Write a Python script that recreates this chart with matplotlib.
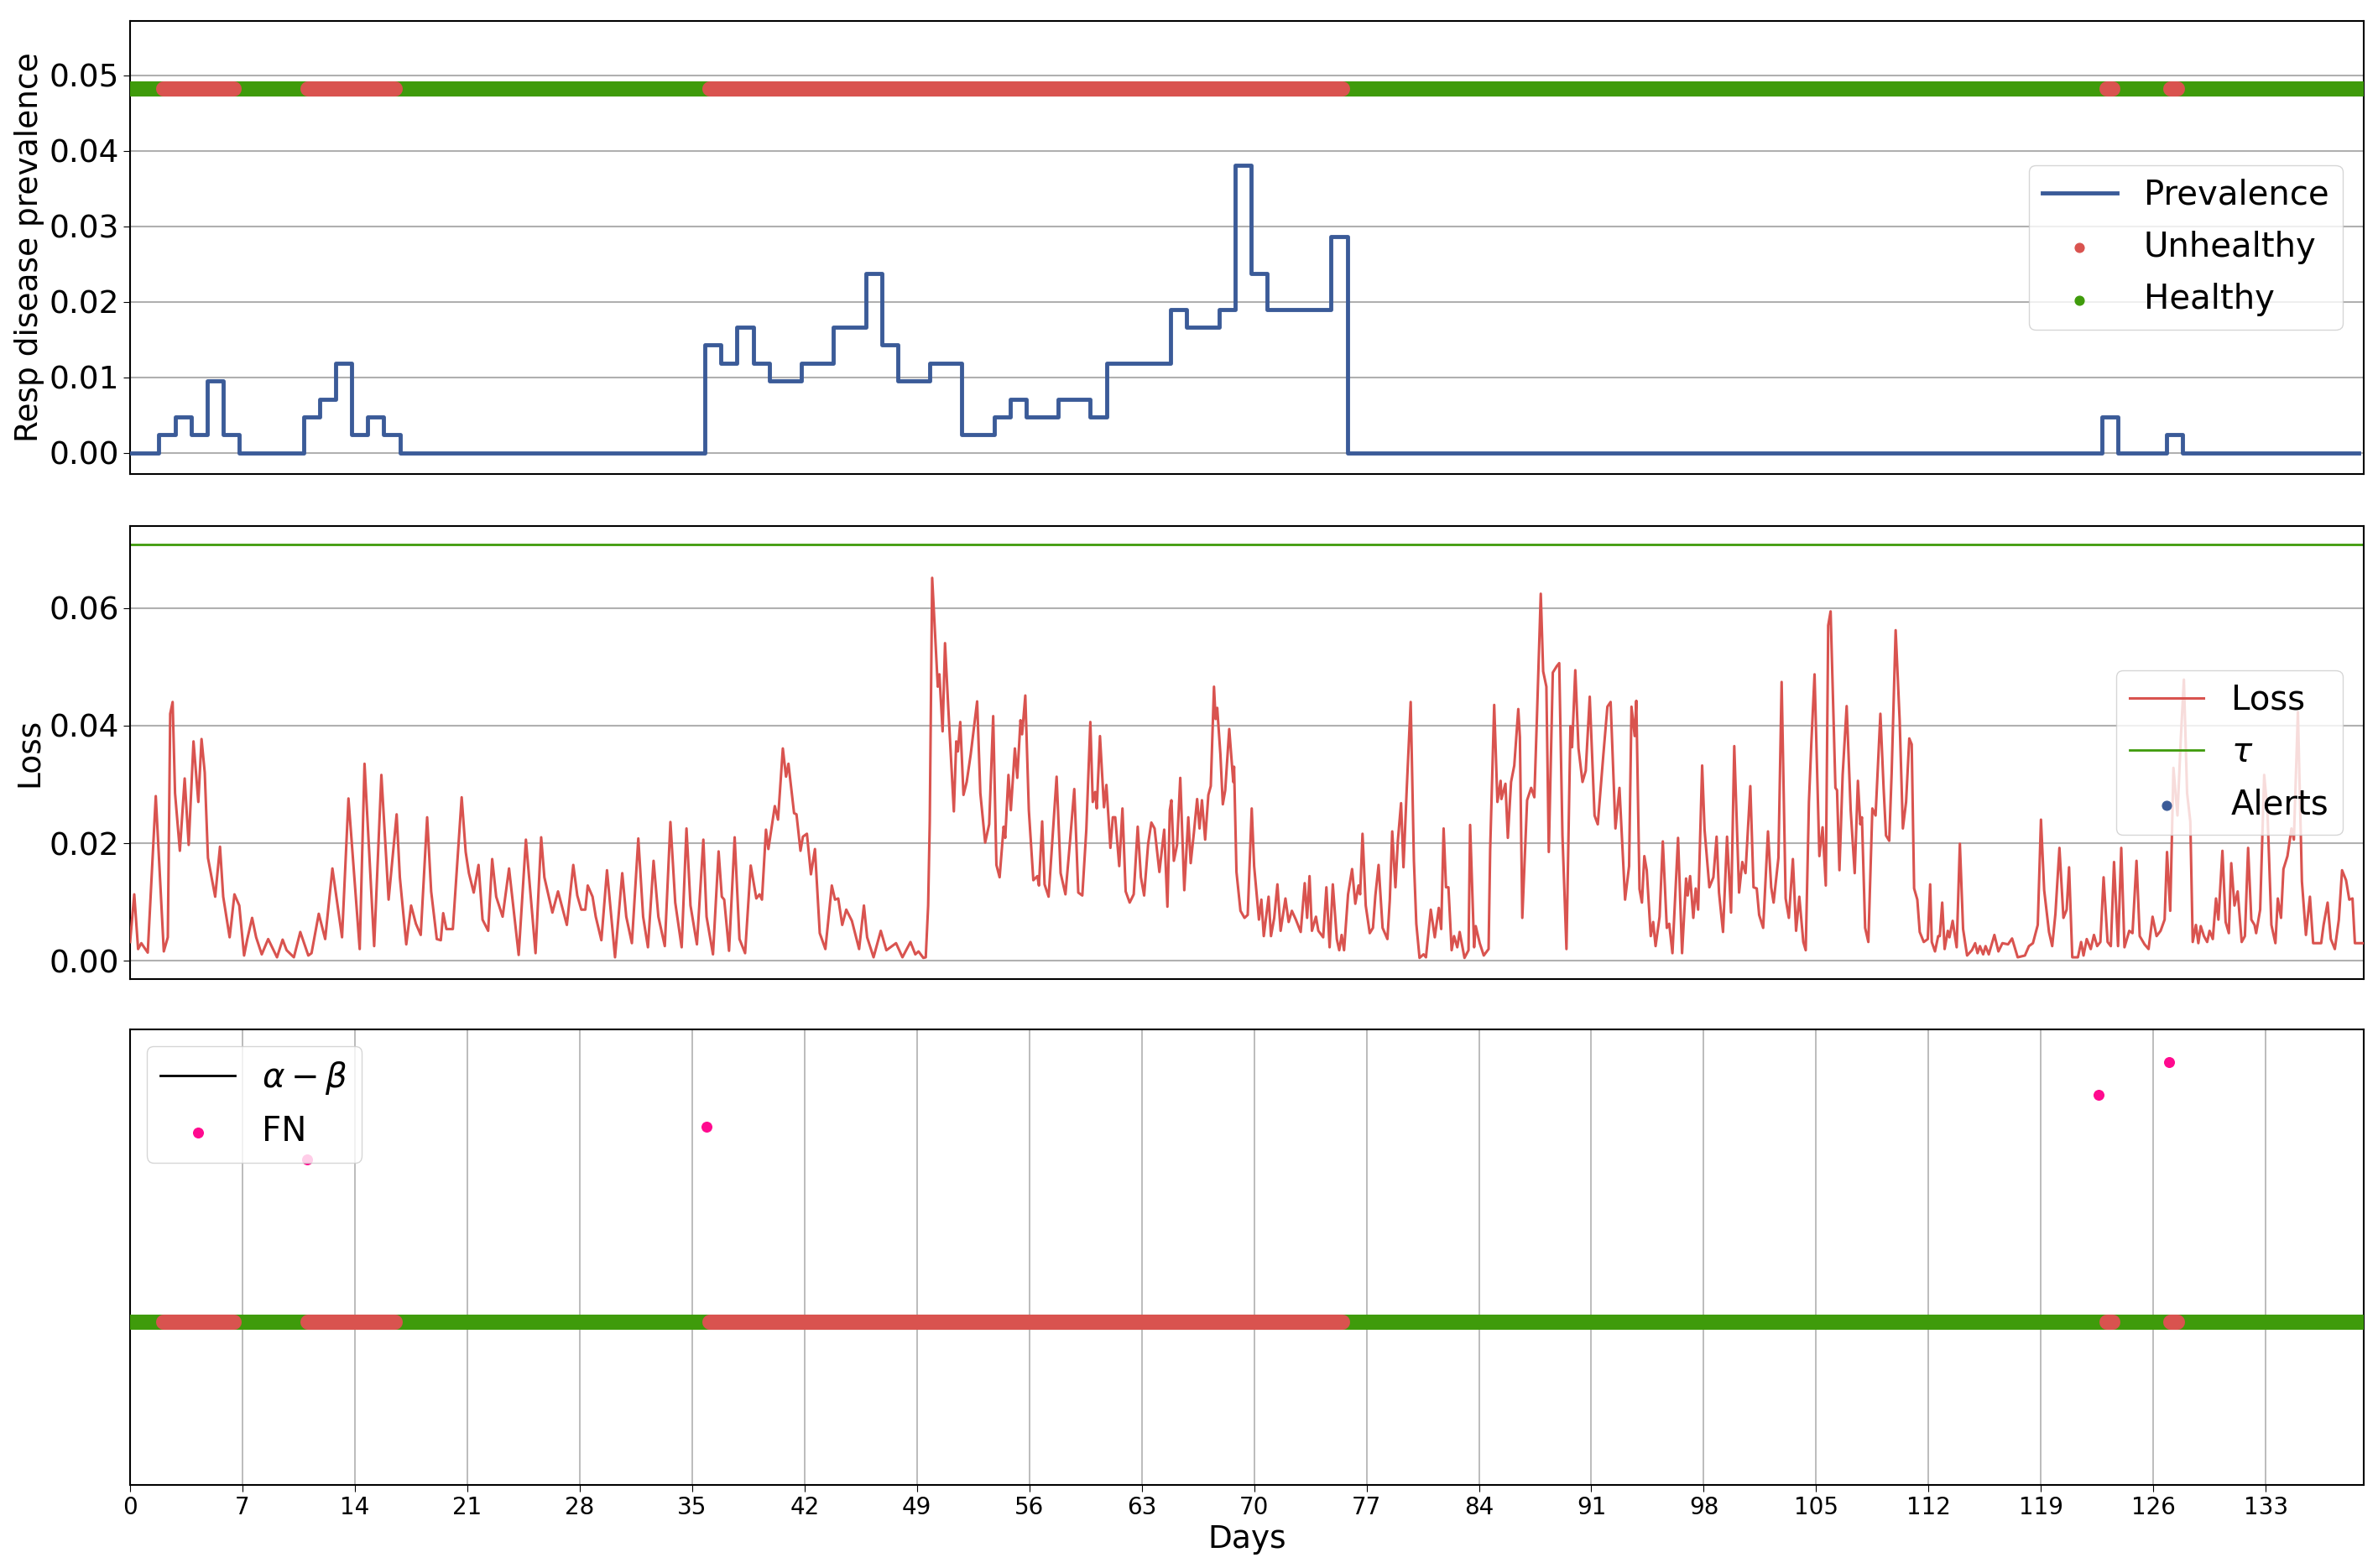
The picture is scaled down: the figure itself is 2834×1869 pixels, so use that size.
import numpy as np
import matplotlib
matplotlib.use("Agg")
import matplotlib.pyplot as plt

# ---------------- data ----------------
prev_days = list(range(0, 140))
prevalence = [0, 0, 0.0024, 0.0048, 0.0024, 0.0095, 0.0024, 0, 0, 0,
              0, 0.0048, 0.0071, 0.0119, 0.0024, 0.0048, 0.0024] + [0] * 19 + \
             [0.0143, 0.0119, 0.0167, 0.0119, 0.0095, 0.0095, 0.0119, 0.0119, 0.0167, 0.0167,
              0.0238, 0.0143, 0.0095, 0.0095, 0.0119, 0.0119, 0.0024, 0.0024, 0.0048, 0.0071,
              0.0048, 0.0048, 0.0071, 0.0071, 0.0048, 0.0119, 0.0119, 0.0119, 0.0119, 0.019,
              0.0167, 0.0167, 0.019, 0.0381, 0.0238, 0.019, 0.019, 0.019, 0.019, 0.0286] + \
             [0] * 47 + [0.0048, 0, 0, 0, 0.0024] + [0] * 12

unhealthy_intervals = [(1.8, 6.8), (10.8, 16.8), (35.8, 75.8), (122.8, 123.8), (126.8, 127.8)]
x_max = 139.1
band_y_top = 0.0482
tau = 0.0708

loss_points = [
 (0.0,0.0032),(0.26,0.0113),(0.5,0.002),(0.7,0.003),(1.1,0.0014),(1.6,0.028),(2.1,0.0016),(2.35,0.004),
 (2.5,0.042),(2.65,0.044),(2.8,0.0285),(3.1,0.0187),(3.4,0.031),(3.65,0.0197),(3.95,0.0373),(4.25,0.027),
 (4.45,0.0377),(4.65,0.032),(4.85,0.0175),(5.3,0.0109),(5.6,0.0194),(5.8,0.0109),(6.2,0.004),(6.5,0.0113),
 (6.8,0.0094),(7.1,0.0009),(7.3,0.0037),(7.6,0.0073),(7.85,0.004),(8.2,0.0011),(8.6,0.0037),(9.15,0.0006),
 (9.5,0.0036),(9.75,0.0018),(10.2,0.0006),(10.6,0.0049),(11.1,0.0009),(11.3,0.0013),(11.75,0.008),(12.15,0.0037),
 (12.6,0.0157),(13.2,0.004),(13.6,0.0276),(14.3,0.002),(14.6,0.0335),(15.2,0.0025),(15.65,0.0316),(16.1,0.0104),
 (16.6,0.0249),(16.8,0.0142),(17.2,0.0028),(17.5,0.0094),(17.8,0.0063),(18.1,0.0044),(18.5,0.0244),(18.75,0.0118),
 (19.1,0.0037),(19.35,0.0035),(19.5,0.0081),(19.7,0.0054),(20.1,0.0054),(20.65,0.0278),(20.9,0.0185),(21.1,0.0149),
 (21.4,0.0116),(21.7,0.0163),(21.95,0.007),(22.3,0.0051),(22.55,0.0173),(22.8,0.0109),(23.2,0.0075),(23.6,0.0157),
 (24.2,0.001),(24.65,0.0206),(25.25,0.0013),(25.6,0.021),(25.8,0.0142),(26.3,0.0082),(26.65,0.0118),(26.9,0.0092),
 (27.2,0.0061),(27.6,0.0163),(27.85,0.0111),(28.1,0.0087),(28.35,0.0087),(28.5,0.0128),(28.8,0.0109),(29.0,0.0075),
 (29.35,0.0035),(29.7,0.0154),(30.2,0.0006),(30.65,0.0149),(30.9,0.0075),(31.25,0.003),(31.65,0.0208),(31.95,0.0075),
 (32.25,0.0023),(32.6,0.017),(32.9,0.0075),(33.3,0.0025),(33.65,0.0236),(33.95,0.0099),(34.35,0.0023),(34.65,0.0225),
 (34.9,0.0094),(35.3,0.0028),(35.7,0.0206),(35.9,0.0075),(36.3,0.0011),(36.65,0.0186),(36.85,0.0109),(37.0,0.0104),
 (37.3,0.0017),(37.65,0.021),(37.95,0.0037),(38.3,0.0013),(38.65,0.0162),(39.0,0.0106),(39.2,0.0113),(39.35,0.0104),
 (39.6,0.0223),(39.75,0.019),(40.15,0.0263),(40.35,0.024),(40.65,0.0361),(40.85,0.0313),(41.0,0.0335),(41.35,0.0251),
 (41.5,0.0249),(41.75,0.0187),(41.9,0.0211),(42.15,0.0216),(42.4,0.0147),(42.65,0.019),(42.95,0.0047),(43.3,0.002),
 (43.7,0.0128),(43.9,0.0104),(44.1,0.0106),(44.35,0.0061),(44.6,0.0087),(44.95,0.0068),(45.4,0.002),(45.7,0.0094),
 (45.9,0.004),(46.3,0.0006),(46.75,0.0051),(47.1,0.0018),(47.7,0.003),(48.1,0.0006),(48.6,0.0032),(48.9,0.0011),
 (49.1,0.0016),(49.4,0.0005),(49.55,0.0006),(49.7,0.0094),(49.8,0.0237),(49.95,0.0651),(50.15,0.0547),(50.3,0.0466),
 (50.4,0.0487),(50.6,0.039),(50.75,0.054),(50.95,0.0432),(51.1,0.0356),(51.3,0.0254),(51.45,0.0373),(51.55,0.0356),
 (51.7,0.0406),(51.9,0.0282),(52.1,0.0304),(52.35,0.0351),(52.75,0.0441),(52.95,0.0285),(53.25,0.0201),(53.5,0.0232),
 (53.75,0.0416),(53.95,0.0163),(54.15,0.0142),(54.4,0.0228),(54.5,0.0209),(54.7,0.0316),(54.85,0.0256),(55.1,0.0361),
 (55.25,0.0311),(55.45,0.0409),(55.55,0.0385),(55.75,0.0451),(55.97,0.0256),(56.25,0.0137),(56.5,0.0144),(56.6,0.0128),
 (56.8,0.0237),(56.95,0.013),(57.2,0.0109),(57.4,0.019),(57.7,0.0313),(57.95,0.0149),(58.25,0.0113),(58.5,0.0192),
 (58.8,0.0292),(59.05,0.0116),(59.3,0.0111),(59.55,0.0223),(59.8,0.0406),(59.95,0.027),(60.1,0.0287),(60.2,0.0259),
 (60.4,0.0382),(60.65,0.0261),(60.8,0.0299),(61.05,0.0192),(61.2,0.0244),(61.35,0.0244),(61.6,0.0161),(61.8,0.0259),
 (62.0,0.0118),(62.25,0.0099),(62.5,0.0113),(62.75,0.0228),(62.95,0.0142),(63.15,0.0111),(63.4,0.0199),(63.6,0.0235),
 (63.8,0.0225),(64.1,0.0151),(64.4,0.0223),(64.6,0.0092),(64.75,0.0256),(64.85,0.0273),(65.0,0.017),(65.2,0.0197),
 (65.4,0.0311),(65.65,0.012),(65.9,0.0244),(66.05,0.0166),(66.25,0.0218),(66.45,0.0275),(66.6,0.0225),(66.75,0.0273),
 (66.95,0.0206),(67.15,0.0282),(67.3,0.0297),(67.5,0.0466),(67.6,0.0411),(67.7,0.043),(67.9,0.0351),(68.05,0.0266),
 (68.2,0.029),(68.45,0.0394),(68.7,0.0304),(68.75,0.033),(68.9,0.0151),(69.15,0.0085),(69.4,0.0073),(69.6,0.0078),
 (69.85,0.0259),(70.0,0.0161),(70.3,0.007),(70.45,0.0104),(70.6,0.0042),(70.9,0.0109),(71.05,0.0042),(71.25,0.0073),
 (71.45,0.013),(71.65,0.0051),(71.95,0.0106),(72.15,0.0066),(72.35,0.0085),(72.6,0.007),(72.9,0.0049),(73.15,0.0132),
 (73.3,0.0073),(73.45,0.0144),(73.6,0.0051),(73.85,0.0075),(74.0,0.0051),(74.3,0.004),(74.5,0.0125),(74.7,0.0023),
 (74.9,0.013),(75.15,0.0037),(75.3,0.0018),(75.45,0.0044),(75.6,0.0018),(75.85,0.0113),(76.1,0.0156),(76.3,0.0097),
 (76.5,0.0128),(76.6,0.0113),(76.75,0.0216),(76.95,0.0094),(77.2,0.0047),(77.4,0.0056),(77.55,0.0111),(77.75,0.0163),
 (78.0,0.0056),(78.3,0.0037),(78.45,0.0104),(78.6,0.022),(78.8,0.0125),(78.95,0.0204),(79.15,0.0268),(79.3,0.0159),
 (79.5,0.029),(79.75,0.044),(79.95,0.017),(80.1,0.0063),(80.3,0.0005),(80.55,0.0011),(80.7,0.0006),(81.0,0.0087),
 (81.25,0.004),(81.5,0.009),(81.65,0.0054),(81.8,0.0225),(81.95,0.0125),(82.1,0.0125),(82.3,0.0018),(82.45,0.0042),
 (82.65,0.0023),(82.8,0.0049),(83.1,0.0005),(83.35,0.0018),(83.45,0.0231),(83.7,0.0023),(83.8,0.0059),(84.05,0.003),
 (84.3,0.0009),(84.6,0.002),(84.7,0.019),(84.95,0.0435),(85.15,0.027),(85.35,0.0306),(85.4,0.0275),(85.65,0.0301),
 (85.8,0.0209),(86.0,0.0304),(86.2,0.0332),(86.45,0.0428),(86.55,0.038),(86.7,0.0073),(87.0,0.0273),(87.25,0.0294),
 (87.45,0.0278),(87.6,0.0404),(87.85,0.0624),(88.0,0.0492),(88.2,0.0466),(88.35,0.0185),(88.6,0.049),(88.85,0.0501),
 (89.0,0.0506),(89.2,0.0213),(89.45,0.002),(89.7,0.0399),(89.8,0.0363),(90.0,0.0494),(90.2,0.0361),(90.45,0.0304),
 (90.65,0.0323),(90.9,0.0449),(91.2,0.0247),(91.4,0.0232),(91.75,0.0351),(92.0,0.0432),(92.2,0.044),(92.5,0.0225),
 (92.75,0.0294),(93.1,0.0104),(93.35,0.0161),(93.5,0.0432),(93.7,0.0382),(93.8,0.0442),(94.0,0.0122),(94.15,0.0099),
 (94.3,0.0178),(94.45,0.0154),(94.55,0.0109),(94.7,0.0042),(94.85,0.0066),(95.0,0.0025),(95.25,0.0075),(95.45,0.0203),
 (95.7,0.0056),(95.85,0.0063),(96.05,0.0013),(96.4,0.0209),(96.65,0.0013),(96.9,0.014),(97.0,0.0111),(97.15,0.0144),
 (97.35,0.0073),(97.5,0.0123),(97.65,0.0087),(97.9,0.0332),(98.05,0.0223),(98.35,0.0125),(98.6,0.0142),(98.8,0.0211),
 (98.95,0.0116),(99.2,0.0049),(99.45,0.0211),(99.7,0.0082),(99.9,0.0365),(100.2,0.0116),(100.4,0.0168),(100.6,0.0149),
 (100.9,0.0297),(101.1,0.0125),(101.3,0.0123),(101.45,0.0078),(101.7,0.0056),(102.0,0.022),(102.2,0.0125),(102.35,0.0099),
 (102.65,0.0175),(102.85,0.0474),(103.1,0.0106),(103.3,0.0073),(103.55,0.0173),(103.75,0.0051),(103.95,0.0109),(104.2,0.0032),
 (104.35,0.0018),(104.55,0.027),(104.7,0.037),(104.9,0.0487),(105.2,0.0178),(105.4,0.0227),(105.6,0.0128),(105.75,0.057),
 (105.9,0.0594),(106.2,0.0294),(106.3,0.029),(106.45,0.0154),(106.65,0.0316),(106.9,0.0433),(107.15,0.0256),(107.4,0.0149),
 (107.6,0.0306),(107.75,0.0232),(107.85,0.0244),(108.05,0.0056),(108.25,0.0032),(108.5,0.0259),(108.7,0.0247),(109.0,0.042),
 (109.2,0.0294),(109.35,0.0213),(109.55,0.0204),(109.7,0.0318),(109.95,0.0562),(110.2,0.0409),(110.4,0.0225),(110.6,0.027),
 (110.8,0.0378),(110.95,0.0368),(111.1,0.0123),(111.3,0.0104),(111.45,0.0049),(111.7,0.0032),(111.95,0.0037),(112.1,0.013),
 (112.2,0.0032),(112.4,0.0016),(112.6,0.0042),(112.7,0.0042),(112.85,0.0099),(113.0,0.002),(113.2,0.0051),(113.3,0.004),
 (113.5,0.0068),(113.75,0.0023),(113.95,0.0199),(114.15,0.0054),(114.4,0.0009),(114.7,0.0018),(114.9,0.003),(115.05,0.0013),
 (115.2,0.0025),(115.4,0.0011),(115.55,0.0025),(115.75,0.0011),(116.1,0.0044),(116.35,0.0016),(116.6,0.003),(116.95,0.0028),
 (117.2,0.0038),(117.55,0.0006),(118.0,0.0009),(118.25,0.0025),(118.5,0.003),(118.8,0.0061),(119.0,0.024),(119.2,0.012),
 (119.5,0.0049),(119.7,0.0025),(119.9,0.008),(120.15,0.0192),(120.4,0.0073),(120.6,0.0087),(120.75,0.0159),(120.95,0.0006),
 (121.3,0.0006),(121.5,0.0032),(121.65,0.0009),(121.85,0.0037),(122.1,0.002),(122.3,0.0044),(122.5,0.0025),(122.7,0.0032),
 (122.9,0.0142),(123.15,0.0032),(123.35,0.0025),(123.55,0.0168),(123.8,0.0025),(124.0,0.0192),(124.2,0.0023),(124.5,0.0051),
 (124.7,0.0047),(124.95,0.017),(125.15,0.0042),(125.45,0.0028),(125.7,0.002),(125.95,0.0075),(126.2,0.0042),(126.45,0.0051),
 (126.7,0.007),(126.85,0.0185),(127.05,0.0085),(127.25,0.0328),(127.5,0.0247),(127.7,0.0373),(127.9,0.0478),(128.1,0.0285),
 (128.3,0.0237),(128.45,0.0032),(128.65,0.0061),(128.8,0.003),(128.95,0.0059),(129.15,0.0042),(129.35,0.0032),(129.5,0.0051),
 (129.7,0.0037),(129.9,0.0106),(130.05,0.007),(130.3,0.0187),(130.5,0.0066),(130.7,0.0047),(130.85,0.0166),(131.05,0.0094),
 (131.25,0.0118),(131.5,0.0032),(131.7,0.0042),(131.9,0.0192),(132.1,0.007),(132.3,0.0061),(132.4,0.0047),(132.65,0.0087),
 (132.9,0.0316),(133.1,0.0256),(133.35,0.0061),(133.6,0.003),(133.75,0.0106),(133.95,0.0073),(134.1,0.0156),(134.35,0.0178),
 (134.6,0.0225),(134.75,0.0206),(135.0,0.0423),(135.25,0.0135),(135.5,0.0044),(135.75,0.0109),(135.95,0.003),(136.45,0.003),
 (136.6,0.0061),(136.85,0.0099),(137.05,0.0037),(137.3,0.002),(137.55,0.007),(137.75,0.0154),(138.0,0.0137),(138.2,0.0104),
 (138.4,0.0106),(138.55,0.003),(139.1,0.003),
]
loss_days = [p[0] for p in loss_points]
loss_vals = [p[1] for p in loss_points]

fn_days = [11.0, 35.9, 122.6, 127.0]
fn_vals = [1, 2, 3, 4]
band_y_bottom = -4

x_ticks = list(range(0, 140, 7))

# ---------------- style ----------------
BLUE = "#3b5b98"
RED = "#d9534f"
GREEN = "#3f9b0b"
PINK = "#ff0a8f"
GRID = "#b0b0b0"

plt.rcParams["font.family"] = ["DejaVu Sans"]

fig = plt.figure(figsize=(28.34, 18.69), dpi=100)
L, W = 0.0547, 0.9393
ax1 = fig.add_axes([L, 0.6977, W, 0.2889])
ax2 = fig.add_axes([L, 0.3756, W, 0.2889])
ax3 = fig.add_axes([L, 0.053, W, 0.2905])


def health_band(ax, y, lw):
    ax.plot([0, x_max], [y, y], color=GREEN, lw=lw, solid_capstyle="butt", zorder=3)
    for a, b in unhealthy_intervals:
        ax.plot([a + 0.3, b - 0.3], [y, y], color=RED, lw=lw, solid_capstyle="round", zorder=4)


leg_kw = dict(fontsize=29, framealpha=0.8, handlelength=2.2, markerscale=1.0, labelspacing=0.55)

# top panel
ax1.step(np.array(prev_days) - 0.2, prevalence, where="post", color=BLUE, lw=3.5, label="Prevalence", zorder=5)
health_band(ax1, band_y_top, 13)
ax1.scatter([], [], color=RED, s=60, label="Unhealthy")
ax1.scatter([], [], color=GREEN, s=60, label="Healthy")
ax1.set_ylim(-0.0028, 0.0572)
ax1.set_yticks([0, 0.01, 0.02, 0.03, 0.04, 0.05])
ax1.set_yticklabels(["0.00", "0.01", "0.02", "0.03", "0.04", "0.05"])
ax1.set_ylabel("Resp disease prevalence", fontsize=27)
ax1.yaxis.grid(True, color=GRID, lw=1.5)
ax1.legend(loc="center right", bbox_to_anchor=(0.998, 0.5), **leg_kw)

# middle panel
ax2.plot(loss_days, loss_vals, color=RED, lw=2.2, label="Loss", zorder=3)
ax2.axhline(tau, color=GREEN, lw=2, label=r"$\tau$")
ax2.scatter([], [], color=BLUE, s=60, label="Alerts")
ax2.set_ylim(-0.0031, 0.0739)
ax2.set_yticks([0, 0.02, 0.04, 0.06])
ax2.set_yticklabels(["0.00", "0.02", "0.04", "0.06"])
ax2.set_ylabel("Loss", fontsize=27)
ax2.yaxis.grid(True, color=GRID, lw=1.5)
ax2.legend(loc="center right", bbox_to_anchor=(0.998, 0.5), **leg_kw)

# bottom panel
ax3.plot([], [], color="black", lw=2, label=r"$\alpha-\beta$")
ax3.scatter(fn_days, fn_vals, color=PINK, s=70, zorder=5, label="FN")
health_band(ax3, band_y_bottom, 13)
ax3.set_ylim(-9, 5)
ax3.set_yticks([])
ax3.set_xticks(x_ticks)
ax3.xaxis.grid(True, color=GRID, lw=1.2)
ax3.tick_params(axis="x", labelsize=20, length=6)
ax3.set_xlabel("Days", fontsize=27)
ax3.legend(loc="upper left", **leg_kw)

for ax in (ax1, ax2, ax3):
    ax.set_xlim(0, x_max)
    ax.set_axisbelow(True)
    for s in ax.spines.values():
        s.set_linewidth(1.5)
for ax in (ax1, ax2):
    ax.set_xticks([])
    ax.tick_params(axis="y", labelsize=27, length=6)

fig.savefig("out.png", dpi=100)
